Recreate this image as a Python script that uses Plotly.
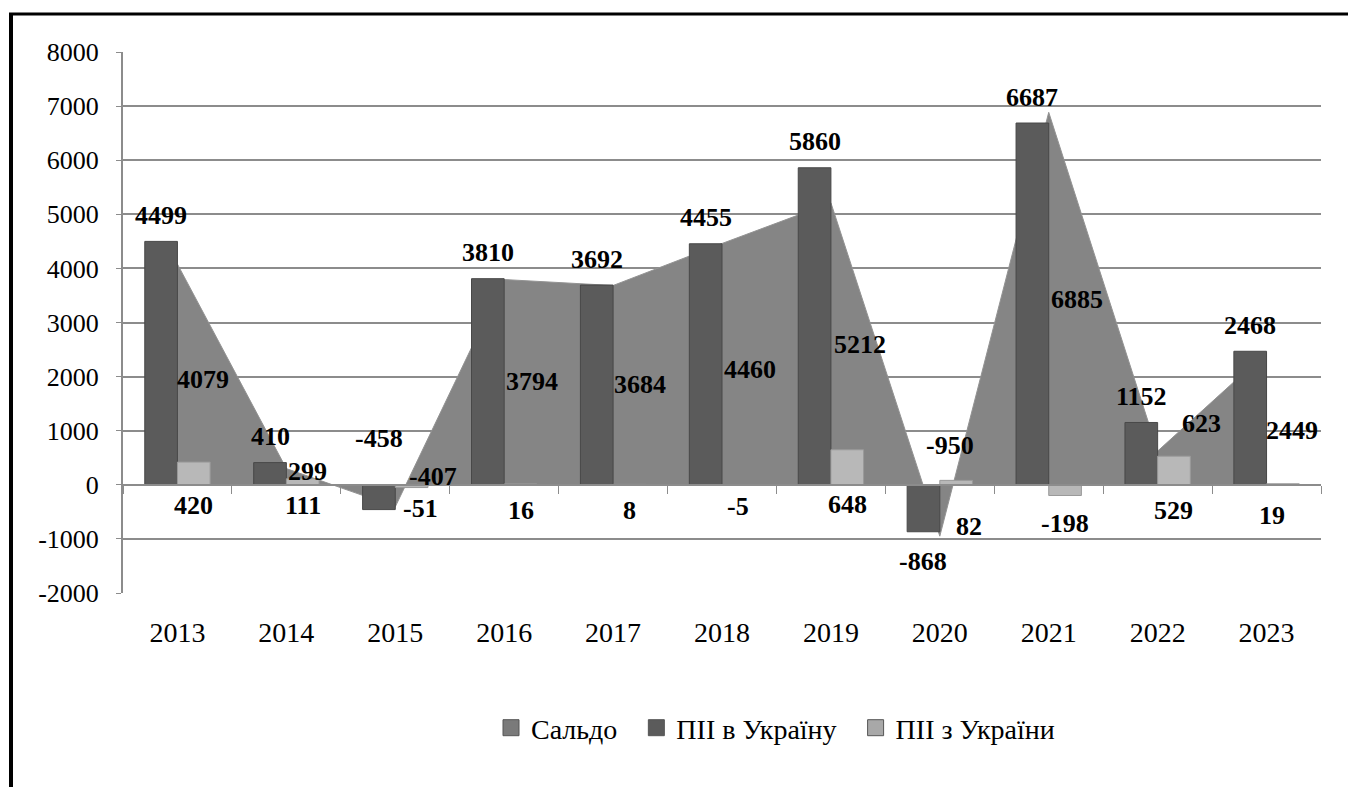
import plotly.graph_objects as go

# ---------------- data ----------------
years = ["2013", "2014", "2015", "2016", "2017", "2018", "2019", "2020", "2021", "2022", "2023"]
pii_in = [4499, 410, -458, 3810, 3692, 4455, 5860, -868, 6687, 1152, 2468]     # ПІІ в Україну
pii_out = [420, 111, -51, 16, 8, -5, 648, 82, -198, 529, 19]                   # ПІІ з України
saldo = [4079, 299, -407, 3794, 3684, 4460, 5212, -950, 6885, 623, 2449]       # Сальдо
y_ticks = [-2000, -1000, 0, 1000, 2000, 3000, 4000, 5000, 6000, 7000, 8000]

# ---------------- label placement tweaks (pixels) ----------------
in_lbl_gap_pos = 26
in_lbl_gap_neg = -30
in_lbl_zero_override = {2: 46}          # "-458" sits above the zero line
out_lbl_dy = [-21, -21, -24, -26, -26, -22, -20, -42, -39, -26, -31]
out_lbl_dx = [0, 0, 9, 0, 0, 0, 0, 13, 0, 0, -11]
saldo_lbl_dx = [26, 21, 38, 28, 27, 28, 29, 10, 28, 44, 25]
saldo_lbl_dy = [-5, 5, 19, 1, 1, -5, -1, 65, -1, 44, -12]

FONT = "Liberation Serif"
C_SALDO = "#858585"
C_IN = "#5b5b5b"
C_OUT = "#b8b8b8"
GRID = "#8c8c8c"

x = list(range(len(years)))
fig = go.Figure()

# area (Сальдо) on the base subplot -> drawn behind the bars
fig.add_trace(go.Scatter(
    x=x, y=saldo, mode="lines", fill="tozeroy",
    fillcolor=C_SALDO, line=dict(color="#939393", width=1),
    showlegend=False, hoverinfo="skip", name="Сальдо"))

# bars on the overlaying x-axis (drawn on top)
fig.add_trace(go.Bar(
    x=x, y=pii_in, width=0.3, offset=-0.3, xaxis="x2",
    marker=dict(color=C_IN, line=dict(color="#484848", width=1)),
    showlegend=False, name="ПІІ в Україну"))
fig.add_trace(go.Bar(
    x=x, y=pii_out, width=0.3, offset=0, xaxis="x2",
    marker=dict(color=C_OUT, line=dict(color="#9a9a9a", width=1)),
    showlegend=False, name="ПІІ з України"))

# legend proxies
for nm, col in [("Сальдо", "#7a7a7a"), ("ПІІ в Україну", "#5b5b5b"), ("ПІІ з України", "#a8a8a8")]:
    fig.add_trace(go.Scatter(x=[None], y=[None], mode="markers", name=nm + "\u00a0\u00a0",
                             marker=dict(symbol="square", size=16, color=col,
                                         line=dict(color="#555555", width=1))))

ann = []
lbl_font = dict(family=FONT, size=26, color="black")
for i in x:
    v = pii_in[i]
    if i in in_lbl_zero_override:
        yy, ys = 0, in_lbl_zero_override[i]
    else:
        yy, ys = v, (in_lbl_gap_pos if v >= 0 else in_lbl_gap_neg)
    ann.append(dict(x=i - 0.15, y=yy, yshift=ys, text="<b>%d</b>" % v, showarrow=False,
                    font=lbl_font, xanchor="center", yanchor="middle"))
    ann.append(dict(x=i + 0.15, y=0, yshift=out_lbl_dy[i], xshift=out_lbl_dx[i],
                    text="<b>%d</b>" % pii_out[i], showarrow=False,
                    font=lbl_font, xanchor="center", yanchor="middle"))
    ann.append(dict(x=i, y=saldo[i] / 2, yshift=saldo_lbl_dy[i], xshift=saldo_lbl_dx[i],
                    text="<b>%d</b>" % saldo[i], showarrow=False,
                    font=lbl_font, xanchor="center", yanchor="middle"))

W, H = 1348, 787
ML, MR, MT, MB = 123, 27, 52, 194
pw, ph = W - ML - MR, H - MT - MB

def px_x(p):
    return (p - ML) / pw

def px_y(p):
    return (H - MB - p) / ph

shapes = [
    # outer frame (left + top)
    dict(type="line", xref="paper", yref="paper", x0=px_x(11), x1=px_x(11),
         y0=px_y(13), y1=px_y(H + 20), line=dict(color="black", width=4)),
    dict(type="line", xref="paper", yref="paper", x0=px_x(9), x1=px_x(W + 5),
         y0=px_y(14), y1=px_y(14), line=dict(color="black", width=3)),
]

fig.update_layout(
    width=W, height=H,
    margin=dict(l=ML, r=MR, t=MT, b=MB),
    paper_bgcolor="white", plot_bgcolor="white",
    barmode="overlay",
    font=dict(family=FONT, size=26, color="black"),
    xaxis=dict(range=[-0.5, len(years) - 0.5], tickmode="array", tickvals=x, ticktext=years,
               showgrid=False, zeroline=False, showline=False, ticks="",
               ticklabelstandoff=20, tickfont=dict(family=FONT, size=28, color="black")),
    xaxis2=dict(overlaying="x", anchor="free", position=0.2,
                range=[-0.5, len(years) - 0.5], tickmode="array",
                tickvals=[i + 0.5 for i in range(-1, len(years))],
                ticktext=[""] * (len(years) + 1),
                showline=True, linecolor=GRID, linewidth=2, ticks="outside",
                ticklen=8, tickwidth=1, tickcolor=GRID, showgrid=False, zeroline=False),
    yaxis=dict(range=[-2000, 8000], tickmode="array", tickvals=y_ticks,
               ticktext=[str(t) for t in y_ticks],
               showgrid=True, gridcolor=GRID, gridwidth=2, zeroline=False,
               showline=True, linecolor=GRID, linewidth=2, ticks="outside",
               ticklen=5, tickcolor=GRID, ticklabelstandoff=12,
               tickfont=dict(family=FONT, size=26, color="black")),
    legend=dict(orientation="h", x=px_x(491), xanchor="left", y=px_y(728), yanchor="middle",
                font=dict(family=FONT, size=28, color="black"), itemwidth=30,
                bgcolor="rgba(0,0,0,0)"),
    annotations=ann,
    shapes=shapes,
    hovermode=False,
)

fig.write_html("out.html", config={"displayModeBar": False},
               post_script="document.body.style.margin='0';document.body.style.overflow='hidden';")
